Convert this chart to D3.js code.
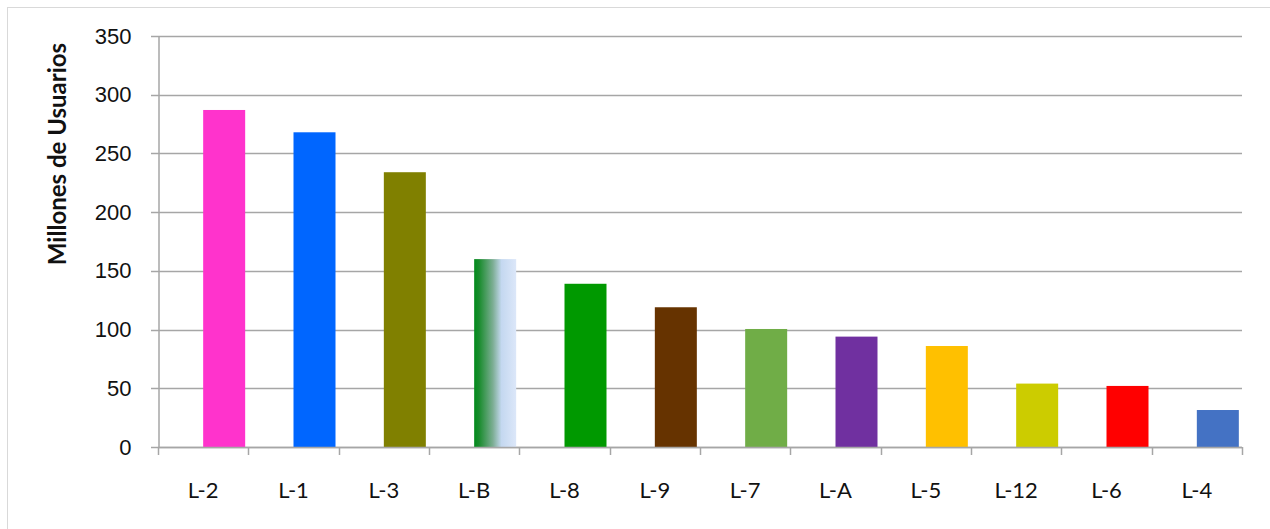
<!DOCTYPE html>
<html>
<head>
<meta charset="utf-8">
<script src="https://cdn.jsdelivr.net/npm/d3@7"></script>
<style>
  body { margin: 0; background: #fff; }
  svg { display: block; font-family: Lato, "Open Sans", sans-serif; }
</style>
</head>
<body>
<script>
(function(){
//chart data
var categories = ["L-2","L-1","L-3","L-B","L-8","L-9","L-7","L-A","L-5","L-12","L-6","L-4"];
var usuarios = [287, 268, 234, 160, 139, 119, 100.5, 94, 86, 54, 52, 31.5];
var barColors = ["#FF33CC","#0066FF","#808000","url(#gradB)","#009900","#663300","#70AD47","#7030A0","#FFC000","#CCCC00","#FF0000","#4472C4"];
var yTicks = [0, 50, 100, 150, 200, 250, 300, 350];
var yTitle = "Millones de Usuarios";

window.onload = drawChart();

function drawChart(){
    var width = 1270,
        height = 529;

    var margin = {left: 158, right: 28, top: 36, bottom: 82};

    var svg = d3.select("body")
        .append("svg")
        .attr("width", width)
        .attr("height", height);

    //gradient for the L-B bar
    var grad = svg.append("defs")
        .append("linearGradient")
        .attr("id", "gradB")
        .attr("x1", "0%").attr("x2", "100%")
        .attr("y1", "0%").attr("y2", "0%");
    grad.append("stop").attr("offset", "0%").attr("stop-color", "#008A1A");
    grad.append("stop").attr("offset", "12%").attr("stop-color", "#1A8C2E");
    grad.append("stop").attr("offset", "45%").attr("stop-color", "#7DAE95");
    grad.append("stop").attr("offset", "65%").attr("stop-color", "#C4D8F0");
    grad.append("stop").attr("offset", "100%").attr("stop-color", "#DCE7F9");

    //outer chart border
    svg.append("rect")
        .attr("x", 7.5)
        .attr("y", 7.5)
        .attr("width", 1400)
        .attr("height", 700)
        .attr("fill", "none")
        .attr("stroke", "#d9d9d9")
        .attr("stroke-width", 1);

    var x = d3.scaleBand()
        .domain(categories)
        .range([margin.left, width - margin.right])
        .padding(0);

    var y = d3.scaleLinear()
        .domain([0, 350])
        .range([height - margin.bottom, margin.top]);

    //gridlines
    svg.append("g")
        .selectAll("line")
        .data(yTicks)
        .enter()
        .append("line")
        .attr("x1", margin.left - 7)
        .attr("x2", width - margin.right)
        .attr("y1", function(d){ return Math.round(y(d)) + 0.5; })
        .attr("y2", function(d){ return Math.round(y(d)) + 0.5; })
        .attr("stroke", "#a6a6a6")
        .attr("stroke-width", 1.5);

    //bars (second position in each category, like the original)
    var bw = 42;
    svg.append("g")
        .selectAll("rect")
        .data(categories)
        .enter()
        .append("rect")
        .attr("x", function(d){ return x(d) + x.bandwidth() / 2; })
        .attr("width", bw)
        .attr("y", function(d, i){ return y(usuarios[i]); })
        .attr("height", function(d, i){ return y(0) - y(usuarios[i]); })
        .attr("fill", function(d, i){ return barColors[i]; });

    //y axis
    var yAxis = d3.axisLeft(y)
        .tickValues(yTicks)
        .tickSize(0)
        .tickPadding(27);
    var gy = svg.append("g")
        .attr("transform", "translate(" + (margin.left + 0.5) + ",0)")
        .call(yAxis);
    gy.select(".domain").attr("stroke", "#a6a6a6").attr("stroke-width", 1.5);
    gy.selectAll("text")
        .style("font-size", "22px")
        .style("fill", "#111");

    //x axis
    var xTickPos = categories.map(function(d){ return x(d); }).concat([width - margin.right]);
    var gx = svg.append("g");
    gx.append("line")
        .attr("x1", margin.left)
        .attr("x2", width - margin.right)
        .attr("y1", Math.round(y(0)) + 0.5)
        .attr("y2", Math.round(y(0)) + 0.5)
        .attr("stroke", "#a6a6a6")
        .attr("stroke-width", 1.5);
    gx.selectAll(".tick")
        .data(xTickPos)
        .enter()
        .append("line")
        .attr("x1", function(d){ return Math.round(d) + 0.5; })
        .attr("x2", function(d){ return Math.round(d) + 0.5; })
        .attr("y1", y(0))
        .attr("y2", y(0) + 8)
        .attr("stroke", "#a6a6a6")
        .attr("stroke-width", 1.5);
    gx.selectAll("text")
        .data(categories)
        .enter()
        .append("text")
        .attr("x", function(d){ return x(d) + x.bandwidth() / 2; })
        .attr("y", 498)
        .attr("text-anchor", "middle")
        .style("font-size", "22px")
        .style("fill", "#111")
        .text(function(d){ return d; });

    //y axis title
    svg.append("text")
        .attr("transform", "translate(66,154) rotate(-90)")
        .attr("text-anchor", "middle")
        .style("font-size", "24px")
        .style("font-weight", "bold")
        .style("fill", "#111")
        .text(yTitle);
};
})();
</script>
</body>
</html>
